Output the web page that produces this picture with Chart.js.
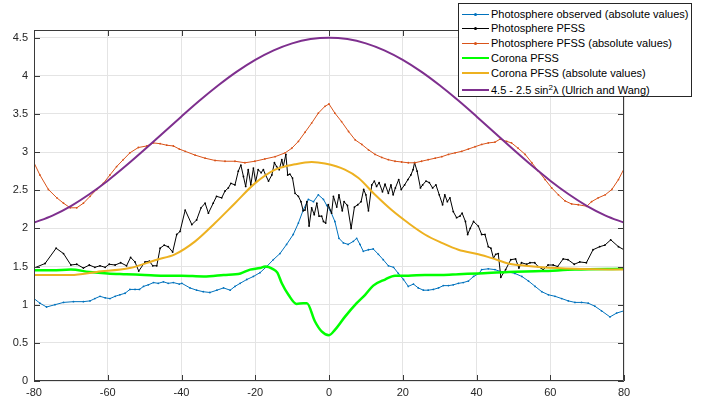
<!DOCTYPE html>
<html>
<head>
<meta charset="utf-8">
<script src="https://cdn.jsdelivr.net/npm/chart.js@4.4.1/dist/chart.umd.min.js"></script>
<style>
  html, body { margin: 0; padding: 0; background: #fff; }
  #wrap { position: relative; width: 711px; height: 403px; }
  #legend {
    position: absolute; left: 458px; top: 3px; width: 234px; height: 94px;
    box-sizing: border-box; border: 1px solid #262626; background: #fff;
    font: 11px "Liberation Sans", Arial, sans-serif; color: #000;
  }
  .row { position: absolute; left: 0; height: 14px; line-height: 14px; white-space: nowrap; }
  .sw { position: absolute; left: 3px; top: 7px; width: 27px; height: 0; }
  .sw i { position: absolute; left: 12px; top: -1.5px; width: 3px; height: 3px; border-radius: 50%; }
  .lbl { position: absolute; left: 32px; top: 0; }
  sup { font-size: 8px; line-height: 0; vertical-align: 4px; }
</style>
</head>
<body>
<div id="wrap">
  <canvas id="chart" width="711" height="403"></canvas>
  <div id="legend"></div>
</div>
<script>
// latitude (deg) / value pairs
const photoObs = [[-80,1.08],[-78.4,1.02],[-76.6,0.97],[-74.3,1.0],[-72,1.03],[-69.3,1.04],[-66.6,1.04],[-64.8,1.05],[-63.5,1.08],[-62.1,1.11],[-60.7,1.09],[-59.4,1.08],[-58,1.11],[-56.7,1.13],[-55.3,1.15],[-54,1.2],[-52.6,1.2],[-51.4,1.2],[-50.3,1.24],[-49,1.26],[-47.6,1.29],[-46.3,1.28],[-44.9,1.3],[-43.6,1.28],[-42.2,1.29],[-40.6,1.27],[-39.9,1.28],[-37.7,1.22],[-35.9,1.19],[-34.1,1.17],[-32.3,1.16],[-30.4,1.19],[-28.6,1.22],[-26.8,1.19],[-25.5,1.24],[-24.1,1.28],[-22.3,1.33],[-20.5,1.37],[-18.7,1.42],[-16.9,1.5],[-15.1,1.59],[-13.3,1.67],[-11.5,1.79],[-9.7,1.92],[-8.3,2.07],[-7,2.24],[-5.6,2.38],[-4.2,2.35],[-2.9,2.44],[-1.5,2.38],[-0.6,2.3],[0.3,2.24],[1.6,2.09],[2.7,1.87],[3.9,1.81],[5.2,1.79],[6.6,1.83],[7.5,1.87],[8.4,1.79],[9.3,1.7],[10.7,1.72],[12,1.73],[13.4,1.66],[14.7,1.59],[16.1,1.51],[17.5,1.49],[18.8,1.41],[20.2,1.33],[21.5,1.24],[22.9,1.27],[24.2,1.22],[25.6,1.19],[26.9,1.19],[28.3,1.2],[29.7,1.22],[31,1.25],[32.4,1.25],[33.7,1.26],[35.1,1.28],[36.4,1.29],[37.8,1.31],[39.2,1.37],[40.7,1.41],[41.4,1.46],[43.2,1.47],[45,1.46],[46.8,1.43],[48.6,1.43],[50.4,1.41],[52.3,1.37],[54.1,1.31],[55.9,1.24],[57.7,1.17],[59.5,1.13],[61.3,1.11],[63.1,1.08],[64.9,1.05],[66.7,1.03],[68.5,1.03],[70.3,1.02],[72.1,0.98],[73.9,0.92],[76.2,0.84],[78,0.89],[80,0.92]];

const photoPfss = [[-80,1.48],[-77,1.54],[-74,1.74],[-72,1.67],[-70,1.52],[-68.4,1.53],[-66.6,1.48],[-65,1.52],[-63.5,1.49],[-62.1,1.51],[-60.7,1.49],[-59.6,1.53],[-58,1.52],[-56.5,1.55],[-54.9,1.51],[-53.8,1.62],[-52.6,1.56],[-51.6,1.44],[-49.9,1.56],[-48.7,1.57],[-47.8,1.51],[-46.7,1.51],[-45.8,1.74],[-44.7,1.78],[-43.6,1.76],[-42.4,1.69],[-41.3,1.92],[-40.4,1.96],[-39,2.24],[-37.2,2.05],[-35.9,2.11],[-34.7,2.27],[-33.6,2.33],[-32.7,2.2],[-31.4,2.33],[-30.5,2.42],[-29.1,2.4],[-28.2,2.49],[-27.3,2.53],[-26.6,2.59],[-25.5,2.57],[-24.6,2.75],[-23.9,2.83],[-23.2,2.68],[-22.6,2.55],[-21.9,2.77],[-21.2,2.57],[-20.5,2.79],[-19.9,2.61],[-19.2,2.77],[-18.4,2.73],[-17.8,2.77],[-17.2,2.7],[-16.4,2.62],[-15.5,2.7],[-14.8,2.86],[-14.2,2.81],[-13.5,2.77],[-12.8,2.9],[-12.4,2.81],[-11.7,2.97],[-11.2,2.7],[-10.6,2.71],[-9.9,2.66],[-9.2,2.46],[-8.3,2.42],[-7.6,2.35],[-7,2.23],[-6.5,2.24],[-6,2.35],[-5.4,2.03],[-4.7,2.27],[-4,2.18],[-3.3,2.33],[-2.7,2.16],[-2,2.16],[-1.5,2.09],[-0.9,2.07],[-0.2,2.31],[0.7,2.2],[1.2,2.42],[2.1,2.28],[2.7,2.44],[3.6,2.23],[4.1,2.35],[5,2.3],[6,2.0],[6.9,2.28],[7.8,2.31],[8.7,2.35],[9.4,2.51],[10,2.44],[10.7,2.23],[11.6,2.57],[12.3,2.62],[12.9,2.55],[13.6,2.6],[14.5,2.48],[15.2,2.58],[16.1,2.46],[16.8,2.57],[17.4,2.44],[18,2.53],[18.9,2.64],[19.6,2.51],[20.5,2.57],[21.4,2.64],[22.2,2.7],[22.8,2.77],[23.2,2.86],[23.9,2.75],[24.8,2.53],[25.4,2.57],[26.3,2.62],[27.2,2.6],[28.1,2.53],[29,2.57],[29.9,2.44],[30.8,2.31],[31.4,2.44],[32.1,2.35],[32.8,2.4],[33.7,2.22],[34.6,2.14],[35.5,2.16],[36.1,2.2],[37,2.09],[37.6,1.92],[38.3,2.0],[39.2,2.09],[40.5,2.03],[41.4,1.92],[42.3,1.92],[43.2,1.76],[43.9,1.74],[44.6,1.61],[45.2,1.66],[45.9,1.67],[46.6,1.36],[47.9,1.46],[49.3,1.59],[50.6,1.6],[51.5,1.48],[52.2,1.55],[53.6,1.53],[54.5,1.55],[55.8,1.55],[56.7,1.5],[58.1,1.46],[59.4,1.52],[60.8,1.52],[62,1.5],[63.5,1.6],[64.8,1.59],[66.5,1.53],[68,1.56],[69.8,1.55],[71.6,1.72],[73.4,1.76],[74.8,1.78],[76.4,1.85],[78.5,1.76],[80,1.72]];

const photoPfssAbs = [[-80,2.86],[-78.4,2.7],[-76.1,2.51],[-73.8,2.4],[-72,2.33],[-70.2,2.27],[-68.4,2.27],[-66.6,2.33],[-64.8,2.42],[-63,2.51],[-61.2,2.59],[-59.4,2.7],[-57.6,2.81],[-55.8,2.9],[-54,2.99],[-51.7,3.06],[-49.4,3.08],[-47.6,3.12],[-45.8,3.11],[-44,3.09],[-42.2,3.08],[-40.6,3.04],[-39,3.01],[-36.3,2.96],[-33.6,2.92],[-30.9,2.89],[-28.2,2.88],[-25.5,2.88],[-22.8,2.86],[-20.1,2.88],[-17.4,2.91],[-14.6,2.94],[-11.9,2.99],[-10.1,3.05],[-8.3,3.14],[-6.5,3.26],[-4.7,3.38],[-2.9,3.51],[-1.1,3.6],[0,3.63],[1.6,3.51],[3.4,3.4],[5.3,3.27],[7.1,3.16],[8.9,3.1],[10.7,3.03],[12.5,2.97],[14.3,2.93],[16.1,2.9],[17.9,2.88],[19.7,2.87],[21.5,2.86],[23.3,2.86],[25.1,2.88],[26.9,2.9],[28.8,2.92],[30.6,2.94],[32.4,2.97],[34.2,2.99],[36,3.01],[37.8,3.04],[39.6,3.07],[41.4,3.1],[43.2,3.12],[45,3.13],[46.4,3.17],[48.2,3.14],[49.5,3.12],[51.3,3.05],[53.2,2.97],[55,2.86],[56.8,2.75],[58.6,2.64],[60.4,2.53],[62.2,2.44],[64,2.36],[65.8,2.32],[67.6,2.31],[69.9,2.29],[71.2,2.35],[73,2.4],[74.9,2.44],[76.7,2.51],[78.5,2.64],[80,2.78]];

const coronaPfss = [[-80,1.45],[-75,1.45],[-70,1.46],[-65,1.43],[-60,1.41],[-55,1.4],[-50,1.39],[-45,1.38],[-40,1.38],[-34,1.37],[-28.6,1.39],[-24,1.41],[-21.4,1.46],[-18.7,1.48],[-17.3,1.5],[-15.3,1.47],[-14,1.42],[-12.8,1.28],[-11,1.13],[-8.8,1.01],[-7,1.02],[-6,1.02],[-3.8,0.78],[-2,0.65],[0,0.6],[1.6,0.67],[4.3,0.84],[7.5,1.02],[9.8,1.13],[12,1.25],[15.2,1.33],[17.9,1.38],[21.5,1.38],[26,1.39],[30.6,1.39],[35.1,1.4],[40.5,1.41],[48.6,1.43],[57.7,1.44],[66.7,1.46],[80,1.47]];

const coronaPfssAbs = [[-80,1.39],[-70,1.39],[-63,1.43],[-54,1.48],[-46.7,1.59],[-41.8,1.66],[-36.3,1.83],[-30.9,2.07],[-25.5,2.33],[-20.1,2.59],[-14.6,2.77],[-9.2,2.84],[-4.7,2.87],[-1.1,2.85],[4.3,2.77],[8,2.66],[12.5,2.44],[17,2.24],[21.5,2.07],[26,1.92],[30.6,1.81],[35.1,1.72],[40.5,1.66],[44.1,1.61],[48.6,1.54],[53.2,1.51],[57.7,1.49],[66.7,1.47],[80,1.46]];

const ulrichWang = [[-80,2.075],[-75,2.168],[-70,2.293],[-65,2.447],[-60,2.625],[-55,2.823],[-50,3.033],[-45,3.25],[-40,3.467],[-35,3.678],[-30,3.875],[-25,4.054],[-20,4.208],[-15,4.333],[-10,4.425],[-5,4.481],[0,4.5],[5,4.481],[10,4.425],[15,4.333],[20,4.208],[25,4.054],[30,3.875],[35,3.678],[40,3.467],[45,3.25],[50,3.033],[55,2.823],[60,2.625],[65,2.447],[70,2.293],[75,2.168],[80,2.075]];

const seriesLabels = [
  'Photosphere observed (absolute values)',
  'Photosphere PFSS',
  'Photosphere PFSS (absolute values)',
  'Corona PFSS',
  'Corona PFSS (absolute values)',
  '4.5 - 2.5 sin<sup>2</sup>\u03bb (Ulrich and Wang)'
];
const seriesColors = ['#0072bd', '#000000', '#d95319', '#00ff00', '#edb120', '#7e2f8e'];
const seriesWidths = [1, 1, 1, 2.5, 2, 2];
const seriesDots = [true, true, true, false, false, false];
const xTicks = [-80, -60, -40, -20, 0, 20, 40, 60, 80];
const yTicks = [0, 0.5, 1, 1.5, 2, 2.5, 3, 3.5, 4, 4.5];

const allSeries = [photoObs, photoPfss, photoPfssAbs, coronaPfss, coronaPfssAbs, ulrichWang];
const smooth = [false, false, false, true, true, true];

const datasets = allSeries.map((s, i) => ({
  label: seriesLabels[i],
  data: s.map(p => ({ x: p[0], y: p[1] })),
  borderColor: seriesColors[i],
  borderWidth: seriesWidths[i],
  pointRadius: seriesDots[i] ? 0.9 : 0,
  pointBorderWidth: 0,
  pointBackgroundColor: seriesColors[i],
  fill: false,
  cubicInterpolationMode: smooth[i] ? 'monotone' : 'default',
  tension: 0,
  order: allSeries.length - i
}));

// MATLAB-like box with inward ticks
const boxPlugin = {
  id: 'box',
  afterDraw(chart) {
    const { ctx, chartArea: a, scales } = chart;
    ctx.save();
    ctx.strokeStyle = '#3a3a3a';
    ctx.lineWidth = 1;
    ctx.beginPath();
    ctx.rect(Math.round(a.left) + 0.5, Math.round(a.top) + 0.5,
             Math.round(a.right - a.left) - 1, Math.round(a.bottom - a.top) - 1);
    xTicks.forEach(v => {
      const px = Math.round(scales.x.getPixelForValue(v)) + 0.5;
      ctx.moveTo(px, a.bottom); ctx.lineTo(px, a.bottom - 6);
      ctx.moveTo(px, a.top); ctx.lineTo(px, a.top + 6);
    });
    yTicks.forEach(v => {
      const py = Math.round(scales.y.getPixelForValue(v)) + 0.5;
      ctx.moveTo(a.left, py); ctx.lineTo(a.left + 6, py);
      ctx.moveTo(a.right, py); ctx.lineTo(a.right - 6, py);
    });
    ctx.stroke();
    ctx.restore();
  }
};

new Chart(document.getElementById('chart'), {
  type: 'line',
  data: { datasets },
  options: {
    responsive: false,
    devicePixelRatio: 1,
    animation: false,
    layout: { padding: { left: 0, top: 30, right: 87, bottom: 0 } },
    plugins: { legend: { display: false }, tooltip: { enabled: false } },
    scales: {
      x: {
        type: 'linear', min: -80, max: 80,
        afterFit: s => { s.height = 22; },
        afterBuildTicks: s => { s.ticks = xTicks.map(v => ({ value: v })); },
        ticks: { color: '#262626', padding: 5, maxRotation: 0, font: { family: 'Liberation Sans', size: 11 }, callback: v => String(v) },
        grid: { color: '#e4e4e4', drawTicks: false },
        border: { display: false }
      },
      y: {
        type: 'linear', min: 0, max: 4.6,
        afterFit: s => { s.width = 34; },
        afterBuildTicks: s => { s.ticks = yTicks.map(v => ({ value: v })); },
        ticks: { color: '#262626', padding: 6, font: { family: 'Liberation Sans', size: 11 }, callback: v => String(v) },
        grid: { color: '#e4e4e4', drawTicks: false },
        border: { display: false }
      }
    }
  },
  plugins: [boxPlugin]
});

// legend box drawn over the upper right corner, as in the figure
const rowTops = [3, 17, 32, 47, 62, 79];
const legend = document.getElementById('legend');
seriesLabels.forEach((lab, i) => {
  const row = document.createElement('div');
  row.className = 'row';
  row.style.top = rowTops[i] + 'px';
  row.style.width = '230px';
  const sw = document.createElement('div');
  sw.className = 'sw';
  sw.style.borderTop = seriesWidths[i] + 'px solid ' + seriesColors[i];
  sw.style.top = (7 - seriesWidths[i] / 2) + 'px';
  if (seriesDots[i]) {
    const d = document.createElement('i');
    d.style.background = seriesColors[i];
    sw.appendChild(d);
  }
  const t = document.createElement('span');
  t.className = 'lbl';
  t.innerHTML = lab;
  row.appendChild(sw);
  row.appendChild(t);
  legend.appendChild(row);
});
</script>
</body>
</html>
